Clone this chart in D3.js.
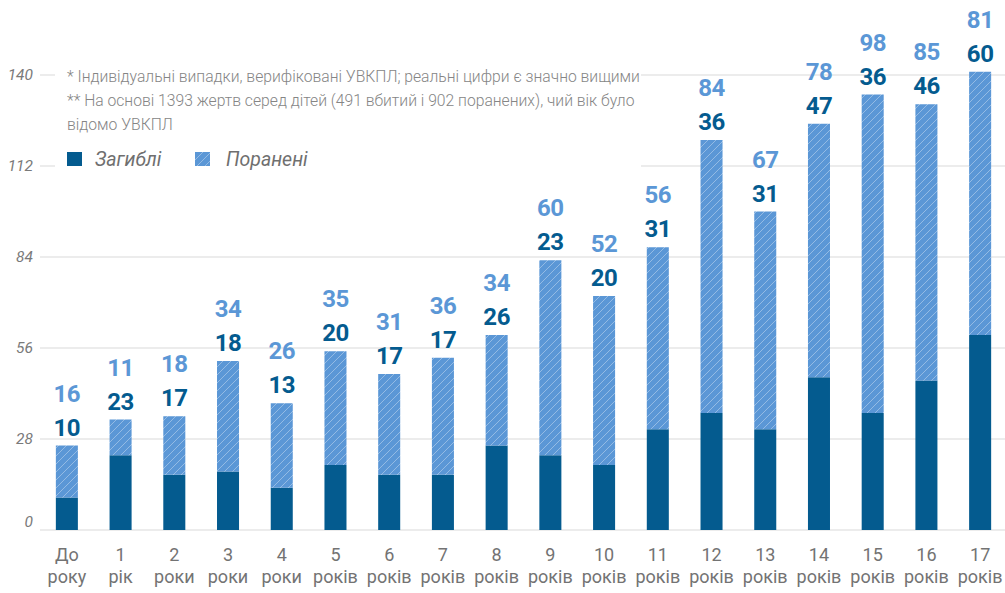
<!DOCTYPE html>
<html>
<head>
<meta charset="utf-8">
<script src="https://cdn.jsdelivr.net/npm/d3@7"></script>
<style>
  body { margin: 0; background: #fff; }
  svg { display: block; font-family: Roboto, "Noto Sans", sans-serif; }
</style>
</head>
<body>
<div id="chart"></div>
<script>
// Chart data
const ageTop = ["До", "1", "2", "3", "4", "5", "6", "7", "8", "9", "10", "11", "12", "13", "14", "15", "16", "17"];
const ageBottom = ["року", "рік", "роки", "роки", "роки", "років", "років", "років", "років", "років", "років", "років", "років", "років", "років", "років", "років", "років"];
const killed = [10, 23, 17, 18, 13, 20, 17, 17, 26, 23, 20, 31, 36, 31, 47, 36, 46, 60];
const injured = [16, 11, 18, 34, 26, 35, 31, 36, 34, 60, 52, 56, 84, 67, 78, 98, 85, 81];
const yTicks = [0, 28, 56, 84, 112, 140];
const notes = [
  "* Індивідуальні випадки, верифіковані УВКПЛ; реальні цифри є значно вищими",
  "** На основі 1393 жертв серед дітей (491 вбитий і 902 поранених), чий вік було",
  "відомо УВКПЛ"
];
const legendItems = ["Загиблі", "Поранені"];

const width = 1005;
const height = 593;
const darkColor = "#045b8f";
const lightColor = "#5b97d6";

const data = ageTop.map((a, i) => ({
  key: a + " " + ageBottom[i],
  top: a,
  bottom: ageBottom[i],
  killed: killed[i],
  injured: injured[i]
}));

const svg = d3.select("#chart")
  .append("svg")
  .attr("width", width)
  .attr("height", height);

// hatch pattern for the injured series
const defs = svg.append("defs");
const pat = defs.append("pattern")
  .attr("id", "hatch")
  .attr("patternUnits", "userSpaceOnUse")
  .attr("width", 8)
  .attr("height", 8);
pat.append("rect").attr("width", 8).attr("height", 8).attr("fill", lightColor);
pat.append("path")
  .attr("d", "M-1,1 l2,-2 M0,8 l8,-8 M7,9 l2,-2")
  .attr("stroke", "#ffffff")
  .attr("stroke-opacity", 0.35)
  .attr("stroke-width", 1);

const x = d3.scaleBand()
  .domain(data.map(d => d.key))
  .range([40, 1007])
  .paddingInner(0.59)
  .paddingOuter(0.295);

const y = d3.scaleLinear()
  .domain([0, 140])
  .range([530, 75]);

// gridlines
svg.append("g")
  .selectAll("line")
  .data(yTicks)
  .join("line")
  .attr("x1", 40)
  .attr("x2", 1005)
  .attr("y1", d => y(d))
  .attr("y2", d => y(d))
  .attr("stroke", "#d9d9d9")
  .attr("stroke-width", 1.2);

// y tick labels
svg.append("g")
  .selectAll("text")
  .data(yTicks)
  .join("text")
  .attr("x", 33)
  .attr("y", d => d === 0 ? y(d) - 3 : y(d))
  .attr("dy", d => d === 0 ? 0 : "0.35em")
  .attr("text-anchor", "end")
  .attr("font-size", 15.5)
  .attr("font-style", "italic")
  .attr("fill", "#7a7a7a")
  .text(d => d);

// white box behind notes and legend
svg.append("rect")
  .attr("x", 55)
  .attr("y", 62)
  .attr("width", 586)
  .attr("height", 118)
  .attr("fill", "#ffffff");

svg.append("g")
  .selectAll("text")
  .data(notes)
  .join("text")
  .attr("x", 67)
  .attr("y", (d, i) => 82 + i * 24)
  .attr("font-size", 15.7)
  .attr("font-weight", 300)
  .attr("fill", "#858585")
  .text(d => d);

// legend
const legend = svg.append("g").attr("transform", "translate(67,152)");
legend.append("rect").attr("x", 0).attr("y", 0).attr("width", 15).attr("height", 14).attr("fill", darkColor);
legend.append("text").attr("x", 28).attr("y", 14).attr("font-size", 19.5).attr("font-style", "italic")
  .attr("fill", "#6f6f6f").text(legendItems[0]);
legend.append("rect").attr("x", 128).attr("y", 0).attr("width", 15).attr("height", 14).attr("fill", "url(#hatch)");
legend.append("text").attr("x", 159).attr("y", 14).attr("font-size", 19.5).attr("font-style", "italic")
  .attr("fill", "#6f6f6f").text(legendItems[1]);

// stacked bars
const bars = svg.append("g")
  .selectAll("g")
  .data(data)
  .join("g");

bars.append("rect")
  .attr("x", d => x(d.key))
  .attr("width", x.bandwidth())
  .attr("y", d => y(d.killed))
  .attr("height", d => y(0) - y(d.killed))
  .attr("fill", darkColor);

bars.append("rect")
  .attr("x", d => x(d.key))
  .attr("width", x.bandwidth())
  .attr("y", d => y(d.killed + d.injured))
  .attr("height", d => y(d.killed) - y(d.killed + d.injured))
  .attr("fill", "url(#hatch)");

// value labels
bars.append("text")
  .attr("x", d => x(d.key) + x.bandwidth() / 2)
  .attr("y", d => y(d.killed + d.injured) - 10)
  .attr("text-anchor", "middle")
  .attr("font-size", 24)
  .attr("font-weight", 700)
  .attr("letter-spacing", -0.5)
  .attr("fill", darkColor)
  .text(d => d.killed);

bars.append("text")
  .attr("x", d => x(d.key) + x.bandwidth() / 2)
  .attr("y", d => y(d.killed + d.injured) - 44)
  .attr("text-anchor", "middle")
  .attr("font-size", 24)
  .attr("font-weight", 700)
  .attr("letter-spacing", -0.5)
  .attr("fill", lightColor)
  .text(d => d.injured);

// category labels, two lines each
const catG = svg.append("g")
  .attr("text-anchor", "middle")
  .attr("font-size", 18)
  .attr("fill", "#737373");

catG.selectAll("text.top")
  .data(data)
  .join("text")
  .attr("class", "top")
  .attr("x", d => x(d.key) + x.bandwidth() / 2)
  .attr("y", 561)
  .text(d => d.top);

catG.selectAll("text.bottom")
  .data(data)
  .join("text")
  .attr("class", "bottom")
  .attr("x", d => x(d.key) + x.bandwidth() / 2)
  .attr("y", 583)
  .text(d => d.bottom);
</script>
</body>
</html>
